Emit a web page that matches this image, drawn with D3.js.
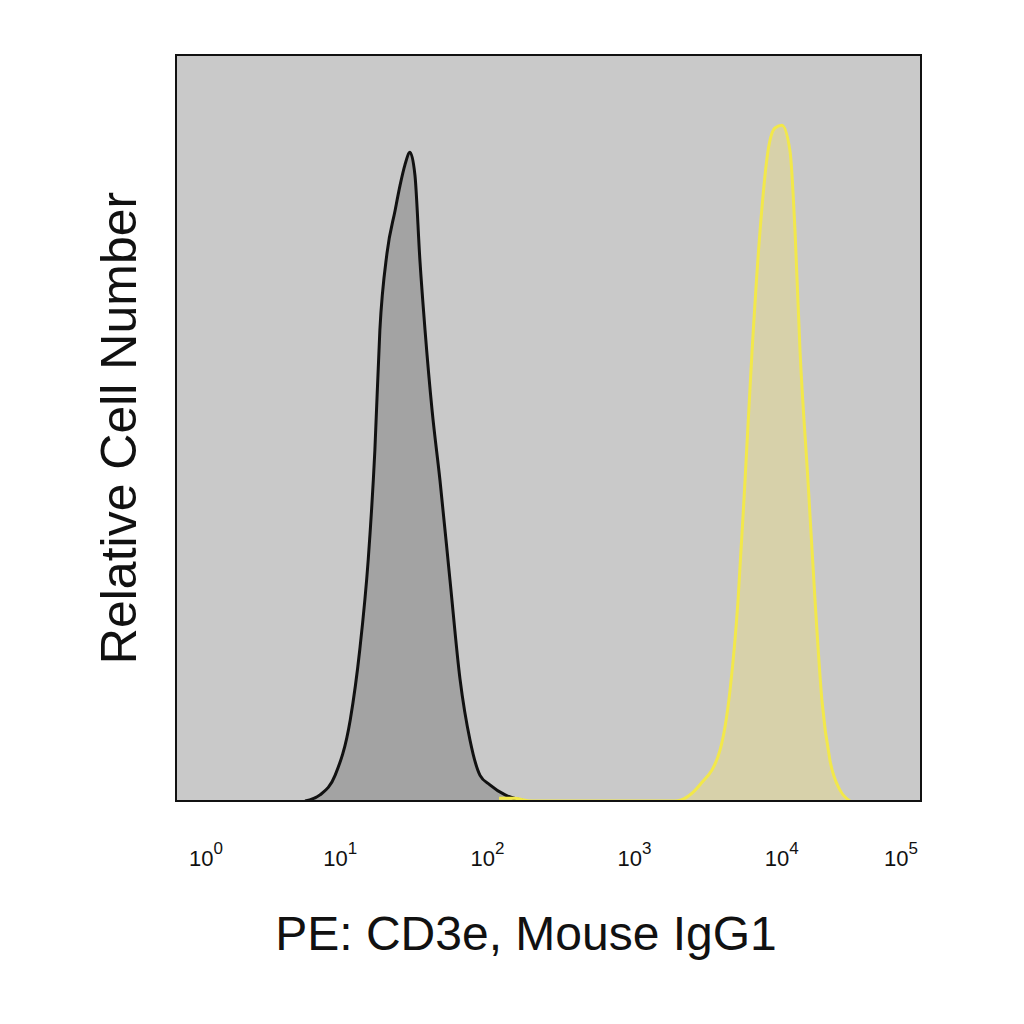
<!DOCTYPE html>
<html>
<head>
<meta charset="utf-8">
<script src="https://cdn.jsdelivr.net/npm/d3@7"></script>
<style>
  body { margin: 0; background: #fff; }
  text { font-family: "Liberation Sans", Arial, sans-serif; }
</style>
</head>
<body>
<svg id="chart" width="1024" height="1024"></svg>
<script>
// isotype control (black) - fluorescence intensity / relative count
var isoX = [5.77, 7.29, 9.23, 11.7, 13.6, 15.5, 17.2, 18.6, 20.8, 23.6, 25.5, 27.5, 29.8, 32.2, 34.8, 37.7, 42.1, 47.6, 55.7, 65.2, 76.2, 89.1, 104, 132, 180];
var isoY = [0, 0.9, 3.8, 12, 22.5, 35.7, 51.9, 69.7, 81.1, 87.4, 91.1, 94.1, 96.0, 92.6, 80.0, 69.7, 57.8, 47.5, 32.7, 18.0, 9.0, 3.8, 2.4, 0.9, 0];
// CD3e stained (yellow)
var cdX = [1.2e2, 1.5e2, 2.0e2, 1880, 2780, 3800, 4450, 5040, 5620, 6280, 7110, 8060, 8990, 10030, 11370, 12300, 13300, 15070, 16830, 18750, 21250, 24850, 29050];
var cdY = [0.4, 0.4, 0, 0, 2.4, 7.5, 16.4, 29.6, 47.3, 66.6, 84.3, 96.2, 99.6, 100, 96.2, 84.3, 66.6, 47.3, 29.6, 14.8, 6.0, 1.6, 0];
var decades = [1, 10, 100, 1000, 10000, 100000];
var decadeExp = ["0", "1", "2", "3", "4", "5"];

var svg = d3.select("#chart");
var pL = 176, pR = 921, pT = 55, pB = 801;

var x = d3.scaleLog().domain([1, 1e5]).range([193, 929]);
var y = d3.scaleLinear().domain([0, 110.4]).range([pB, pT]);

svg.append("defs").append("clipPath").attr("id", "clip")
  .append("rect").attr("x", pL).attr("y", pT).attr("width", pR - pL).attr("height", pB - pT);

svg.append("rect").attr("x", pL).attr("y", pT).attr("width", pR - pL).attr("height", pB - pT)
  .attr("fill", "#c9c9c9");

var area = d3.area().x(function(d) { return x(d[0]); }).y0(pB).y1(function(d) { return y(d[1]); }).curve(d3.curveMonotoneX);
var line = d3.line().x(function(d) { return x(d[0]); }).y(function(d) { return y(d[1]); }).curve(d3.curveMonotoneX);

var iso = d3.zip(isoX, isoY), cd = d3.zip(cdX, cdY);
var g = svg.append("g").attr("clip-path", "url(#clip)");

g.append("path").datum(iso).attr("d", area).attr("fill", "#a3a3a3");
g.append("path").datum(cd).attr("d", area).attr("fill", "#d9d2a4").attr("opacity", 0.85);
g.append("path").datum(iso).attr("d", line).attr("fill", "none").attr("stroke", "#111").attr("stroke-width", 3);
g.append("path").datum(cd).attr("d", line).attr("fill", "none").attr("stroke", "#f2e84a").attr("stroke-width", 3);

svg.append("rect").attr("x", pL).attr("y", pT).attr("width", pR - pL).attr("height", pB - pT)
  .attr("fill", "none").attr("stroke", "#111").attr("stroke-width", 2);

// tick labels
var lab = svg.append("g");
decades.forEach(function(d, i) {
  var px = Math.max(pL + 30, Math.min(pR - 20, x(d)));
  var t = lab.append("text").attr("x", px).attr("y", 866).attr("text-anchor", "middle")
    .attr("font-size", 22).attr("fill", "#111");
  t.append("tspan").text("10");
  t.append("tspan").attr("dy", -12).attr("font-size", 17).text(decadeExp[i]);
});

svg.append("text").attr("x", 526).attr("y", 950).attr("text-anchor", "middle")
  .attr("font-size", 48).attr("fill", "#111").text("PE: CD3e, Mouse IgG1");
svg.append("text").attr("transform", "translate(136,428) rotate(-90)").attr("text-anchor", "middle")
  .attr("font-size", 50).attr("fill", "#111").text("Relative Cell Number");
</script>
</body>
</html>
